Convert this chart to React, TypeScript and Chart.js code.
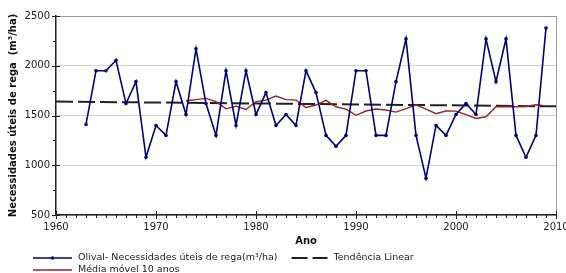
import React, { useEffect, useRef } from 'react';
import { Chart, registerables } from 'chart.js';

Chart.register(...registerables);

const years = [1963, 1964, 1965, 1966, 1967, 1968, 1969, 1970, 1971, 1972, 1973, 1974, 1975, 1976, 1977, 1978, 1979, 1980, 1981, 1982, 1983, 1984, 1985, 1986, 1987, 1988, 1989, 1990, 1991, 1992, 1993, 1994, 1995, 1996, 1997, 1998, 1999, 2000, 2001, 2002, 2003, 2004, 2005, 2006, 2007, 2008, 2009];
const olival = [1410, 1950, 1950, 2055, 1620, 1840, 1080, 1400, 1300, 1840, 1510, 2170, 1620, 1300, 1950, 1400, 1950, 1510, 1730, 1400, 1510, 1400, 1950, 1730, 1300, 1190, 1300, 1950, 1950, 1300, 1300, 1840, 2270, 1300, 870, 1400, 1300, 1510, 1620, 1510, 2270, 1840, 2270, 1300, 1080, 1300, 2380];

const mediaYears = [1973, 1974, 1975, 1976, 1977, 1978, 1979, 1980, 1981, 1982, 1983, 1984, 1985, 1986, 1987, 1988, 1989, 1990, 1991, 1992, 1993, 1994, 1995, 1996, 1997, 1998, 1999, 2000, 2001, 2002, 2003, 2004, 2005, 2006, 2007, 2008, 2009];
const media = [1648, 1660, 1672, 1640, 1567, 1594, 1561, 1640, 1655, 1695, 1660, 1655, 1580, 1605, 1652, 1588, 1565, 1502, 1545, 1565, 1555, 1534, 1570, 1608, 1564, 1518, 1545, 1544, 1508, 1470, 1487, 1588, 1588, 1588, 1590, 1608, 1597];

const trendYears = [1960, 2010];
const trendValues = [1640, 1592];

const seriesLabels = [
  'Olival- Necessidades úteis de rega(m³/ha)',
  'Média móvel 10 anos',
  'Tendência Linear',
];
const xTitle = 'Ano';
const yTitle = 'Necessidades úteis de rega  (m³/ha)';

const xMin = 1960;
const xMax = 2010;
const yMin = 500;
const yMax = 2500;

const FONT = 'DejaVu Sans';
const AXIS = '#222';

const axisPlugin = {
  id: 'axisDecor',
  afterDraw(chart: any) {
    const { ctx, chartArea } = chart;
    const xs = chart.scales.x;
    const ys = chart.scales.y;
    ctx.save();
    ctx.strokeStyle = '#999';
    ctx.lineWidth = 1;
    ctx.beginPath();
    ctx.moveTo(chartArea.right + 0.5, chartArea.top);
    ctx.lineTo(chartArea.right + 0.5, chartArea.bottom);
    ctx.stroke();
    ctx.strokeStyle = AXIS;
    ctx.lineWidth = 1;
    for (let v = xMin; v <= xMax; v += 1) {
      const px = Math.round(xs.getPixelForValue(v)) + 0.5;
      const major = v % 10 === 0;
      ctx.beginPath();
      ctx.moveTo(px, chartArea.bottom - (major ? 4 : 0));
      ctx.lineTo(px, chartArea.bottom + (major ? 4 : 3));
      ctx.stroke();
    }
    for (let v = yMin; v <= yMax; v += 250) {
      const py = Math.round(ys.getPixelForValue(v)) + 0.5;
      const major = v % 500 === 0;
      ctx.beginPath();
      ctx.moveTo(chartArea.left - (major ? 4 : 3), py);
      ctx.lineTo(chartArea.left + (major ? 4 : 0), py);
      ctx.stroke();
    }
    ctx.restore();
  },
};

const legendPlugin = {
  id: 'customLegend',
  afterDraw(chart: any) {
    const { ctx } = chart;
    const ds = chart.data.datasets;
    ctx.save();
    ctx.font = `9.5px "${FONT}"`;
    ctx.fillStyle = '#222';
    ctx.textBaseline = 'middle';
    const drawItem = (d: any, x: number, y: number, lineLen: number) => {
      ctx.strokeStyle = d.borderColor;
      ctx.lineWidth = d.borderWidth;
      ctx.setLineDash(d.borderDash ? [16, 5] : []);
      ctx.beginPath();
      ctx.moveTo(x, y);
      ctx.lineTo(x + lineLen, y);
      ctx.stroke();
      ctx.setLineDash([]);
      if (d.pointRadius > 0) {
        ctx.fillStyle = d.borderColor;
        ctx.beginPath();
        ctx.arc(x + lineLen / 2, y, 1.8, 0, Math.PI * 2);
        ctx.fill();
      }
      ctx.fillStyle = '#222';
      ctx.fillText(d.label, x + lineLen + 6, y);
      return x + lineLen + 6 + ctx.measureText(d.label).width;
    };
    const x0 = 33;
    const row1 = 258;
    const end1 = drawItem(ds[0], x0, row1, 39);
    drawItem(ds[2], end1 + 14, row1, 36);
    drawItem(ds[1], x0, row1 + 12, 39);
    ctx.restore();
  },
};

export default function App() {
  const ref = useRef<HTMLCanvasElement>(null);
  useEffect(() => {
    document.body.style.margin = '0';
    Chart.defaults.font.family = FONT;
    const chart = new Chart(ref.current as HTMLCanvasElement, {
      type: 'line',
      data: {
        datasets: [
          {
            label: seriesLabels[0],
            data: years.map((y, i) => ({ x: y, y: olival[i] })),
            borderColor: '#00007f',
            backgroundColor: '#00007f',
            borderWidth: 1.6,
            pointRadius: 1.8,
            pointHoverRadius: 1.8,
            pointBorderWidth: 0,
            tension: 0,
          },
          {
            label: seriesLabels[1],
            data: mediaYears.map((y, i) => ({ x: y, y: media[i] })),
            borderColor: '#992222',
            backgroundColor: '#992222',
            borderWidth: 1.4,
            pointRadius: 0,
            tension: 0,
          },
          {
            label: seriesLabels[2],
            data: trendYears.map((y, i) => ({ x: y, y: trendValues[i] })),
            borderColor: '#222',
            backgroundColor: '#222',
            borderWidth: 2,
            borderDash: [17, 5],
            pointRadius: 0,
            tension: 0,
          },
        ],
      },
      options: {
        animation: false,
        responsive: true,
        maintainAspectRatio: false,
        layout: { padding: { top: 16, right: 10, bottom: 26, left: 0 } },
        plugins: { legend: { display: false }, tooltip: { enabled: false } },
        scales: {
          x: {
            type: 'linear',
            min: xMin,
            max: xMax,
            afterFit: (s: any) => {
              s.height = 32;
              s.paddingLeft = 0;
              s.paddingRight = 0;
            },
            ticks: { stepSize: 10, padding: 6, color: '#222', font: { size: 10 }, maxRotation: 0, callback: (v: any) => String(v) },
            grid: { display: false, drawTicks: false },
            border: { display: true, color: AXIS, width: 1.5 },
            title: { display: true, text: xTitle, color: '#111', font: { size: 10, weight: 'bold' }, padding: 0 },
          },
          y: {
            min: yMin,
            max: yMax,
            afterFit: (s: any) => {
              s.width = 56;
              s.paddingTop = 0;
              s.paddingBottom = 0;
            },
            ticks: { stepSize: 500, padding: 6, color: '#222', font: { size: 10 }, callback: (v: any) => String(v) },
            grid: {
              drawTicks: false,
              color: (c: any) => (c.tick && c.tick.value === yMax ? '#999' : '#d4d4d4'),
              lineWidth: 1,
            },
            border: { display: true, color: AXIS, width: 1.5 },
            title: { display: true, text: yTitle, color: '#111', font: { size: 10, weight: 'bold' }, padding: { top: 7, bottom: 0 } },
          },
        },
      },
      plugins: [axisPlugin, legendPlugin],
    });
    return () => chart.destroy();
  }, []);
  return (
    <div style={{ width: 566, height: 273, position: 'relative' }}>
      <canvas ref={ref} />
    </div>
  );
}
